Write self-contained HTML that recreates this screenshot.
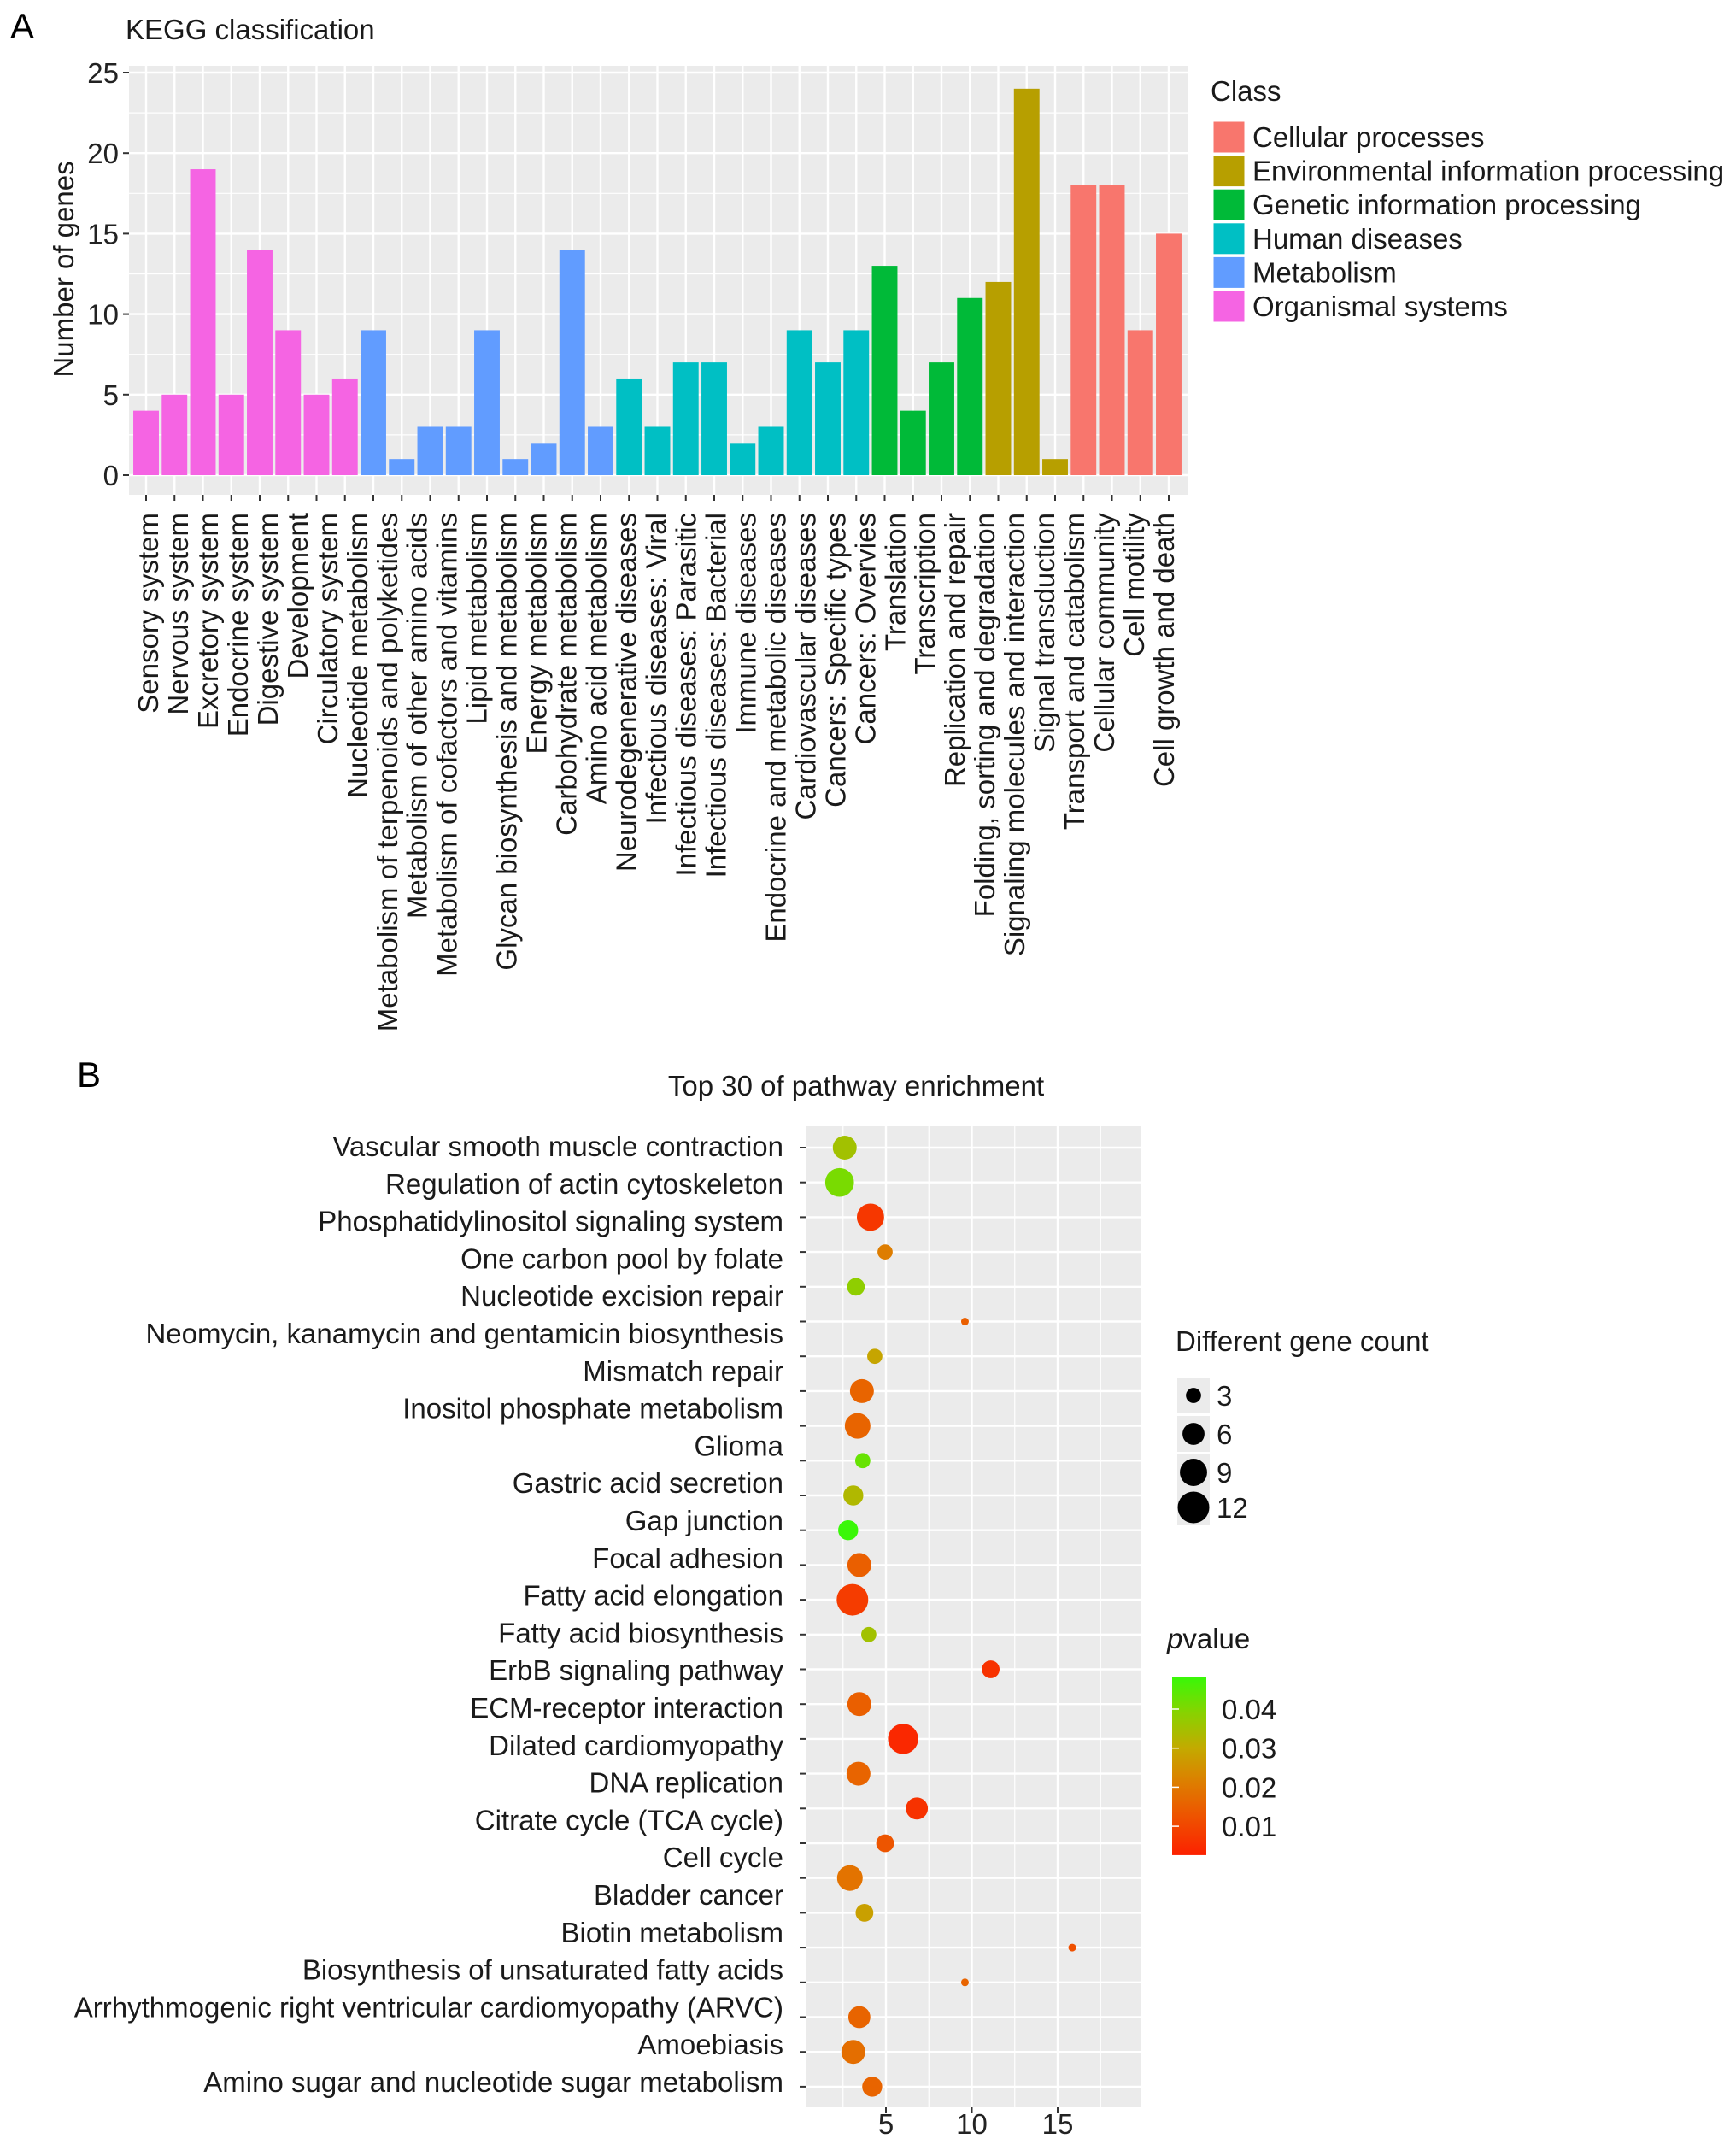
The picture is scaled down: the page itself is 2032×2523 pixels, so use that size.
<!DOCTYPE html>
<html><head><meta charset="utf-8"><style>
html,body{margin:0;padding:0;background:#fff;}
svg{display:block;font-family:"Liberation Sans",Arial,sans-serif;}
</style></head><body>
<svg id="fig" xmlns="http://www.w3.org/2000/svg" width="2032" height="2523" viewBox="0 0 2032 2523">
<rect width="2032" height="2523" fill="#fff"/>
<text x="12" y="45" font-size="42">A</text>
<text x="147" y="46" font-size="33" fill="#1a1a1a">KEGG classification</text>
<text transform="translate(86,315) rotate(-90)" text-anchor="middle" font-size="33" fill="#1a1a1a">Number of genes</text>
<g id="gA"></g>
<text x="1417" y="118" font-size="33" fill="#1a1a1a">Class</text>
<g id="legA"></g>

<text x="90" y="1272" font-size="42">B</text>
<text x="1002" y="1282" text-anchor="middle" font-size="33" fill="#1a1a1a">Top 30 of pathway enrichment</text>
<g id="gB"></g>
<text x="1376" y="1581" font-size="33" fill="#1a1a1a">Different gene count</text>
<g id="legS"></g>
<text x="1366" y="1929" font-size="33" fill="#1a1a1a"><tspan font-style="italic">p</tspan>value</text>
<defs><linearGradient id="pg" x1="0" y1="1" x2="0" y2="0"></linearGradient></defs>
<g id="legC"></g>
</svg>
<script>
const classNames = ["Cellular processes","Environmental information processing","Genetic information processing","Human diseases","Metabolism","Organismal systems"];
const classColors = ["#F8766D","#B79F00","#00BA38","#00BFC4","#619CFF","#F564E3"];
const barValues = [4,5,19,5,14,9,5,6, 9,1,3,3,9,1,2,14,3, 6,3,7,7,2,3,9,7,9, 13,4,7,11, 12,24,1, 18,18,9,15];
const barClass = [5,5,5,5,5,5,5,5, 4,4,4,4,4,4,4,4,4, 3,3,3,3,3,3,3,3,3, 2,2,2,2, 1,1,1, 0,0,0,0];
const xLabelsA = ["Sensory system","Nervous system","Excretory system","Endocrine system","Digestive system","Development","Circulatory system","Nucleotide metabolism","Metabolism of terpenoids and polyketides","Metabolism of other amino acids","Metabolism of cofactors and vitamins","Lipid metabolism","Glycan biosynthesis and metabolism","Energy metabolism","Carbohydrate metabolism","Amino acid metabolism","Neurodegenerative diseases","Infectious diseases: Viral","Infectious diseases: Parasitic","Infectious diseases: Bacterial","Immune diseases","Endocrine and metabolic diseases","Cardiovascular diseases","Cancers: Specific types","Cancers: Overvies","Translation","Transcription","Replication and repair","Folding, sorting and degradation","Signaling molecules and interaction","Signal transduction","Transport and catabolism","Cellular community","Cell motility","Cell growth and death"];
const yTicksA = [0,5,10,15,20,25];

const pathLabels = ["Vascular smooth muscle contraction","Regulation of actin cytoskeleton","Phosphatidylinositol signaling system","One carbon pool by folate","Nucleotide excision repair","Neomycin, kanamycin and gentamicin biosynthesis","Mismatch repair","Inositol phosphate metabolism","Glioma","Gastric acid secretion","Gap junction","Focal adhesion","Fatty acid elongation","Fatty acid biosynthesis","ErbB signaling pathway","ECM-receptor interaction","Dilated cardiomyopathy","DNA replication","Citrate cycle (TCA cycle)","Cell cycle","Bladder cancer","Biotin metabolism","Biosynthesis of unsaturated fatty acids","Arrhythmogenic right ventricular cardiomyopathy (ARVC)","Amoebiasis","Amino sugar and nucleotide sugar metabolism"];
const richFactor = [2.6,2.3,4.1,4.95,3.25,9.6,4.35,3.6,3.35,3.65,3.1,2.8,3.45,3.05,4.0,11.1,3.45,6.0,3.4,6.8,4.95,2.9,3.75,15.85,9.6,3.45,3.1,4.2];
const geneCount = [7,10,9,3,4,1,3,7,8,3,5,5,7,12,3,4,7,11,7,6,4,8,4,1,1,6,7,5];
const pValue = [0.035,0.041,0.007,0.021,0.038,0.015,0.029,0.016,0.016,0.043,0.033,0.048,0.015,0.008,0.035,0.006,0.015,0.004,0.016,0.006,0.013,0.019,0.028,0.012,0.016,0.016,0.018,0.016];
const xTicksB = [5,10,15];
const sizeTicks = [3,6,9,12];
const pTicks = [0.01,0.02,0.03,0.04];

const NS="http://www.w3.org/2000/svg";
function mk(tag, attrs, parent){const e=document.createElementNS(NS,tag);for(const k in attrs)e.setAttribute(k,attrs[k]);parent.appendChild(e);return e;}

// ---------- Panel A ----------
const gA=document.getElementById('gA');
const A={left:151,right:1390,top:77,bottom:579,first:171,pitch:33.25};
const xA=i=>A.first+i*A.pitch;
const yA=v=>556-v*18.84;
const bgA=mk('rect',{x:A.left,y:A.top,width:A.right-A.left,height:A.bottom-A.top,fill:'#EBEBEB'},gA);


for(let k=0;k<yTicksA.length-1;k++){const v=yTicksA[k]+2.5;const l=mk('line',{x1:A.left,x2:A.right,y1:yA(v),y2:yA(v),stroke:'#fff','stroke-width':1.2},gA);

}
yTicksA.forEach(v=>{const l=mk('line',{x1:A.left,x2:A.right,y1:yA(v),y2:yA(v),stroke:'#fff','stroke-width':2.4},gA);


const t=mk('text',{x:139,y:yA(v)+12,'text-anchor':'end','font-size':33,fill:'#222'},gA);t.textContent=v;


const tk=mk('line',{x1:A.left-7,x2:A.left,y1:yA(v),y2:yA(v),stroke:'#333','stroke-width':2},gA);

});
barValues.forEach((v,i)=>{const l=mk('line',{x1:xA(i),x2:xA(i),y1:A.top,y2:A.bottom,stroke:'#fff','stroke-width':2.4},gA);


const tk=mk('line',{x1:xA(i),x2:xA(i),y1:A.bottom,y2:A.bottom+7,stroke:'#333','stroke-width':2},gA);

});
barValues.forEach((v,i)=>{const w=A.pitch*0.9;const r=mk('rect',{x:xA(i)-w/2,y:yA(v),width:w,height:yA(0)-yA(v),fill:classColors[barClass[i]]},gA);

});
xLabelsA.forEach((s,i)=>{const x=174+i*34.97;const t=mk('text',{transform:`translate(${x+11},600) rotate(-90)`,'text-anchor':'end','font-size':33,fill:'#1a1a1a'},gA);t.textContent=s;

});
const legA=document.getElementById('legA');
classNames.forEach((s,i)=>{const y=142+i*39.6;
const r=mk('rect',{x:1420,y:y,width:37,height:37,fill:classColors[i],stroke:'#fff','stroke-width':1},legA);


const t=mk('text',{x:1466,y:y+30,'font-size':33,fill:'#1a1a1a'},legA);t.textContent=s;

});

// ---------- Panel B ----------
const gB=document.getElementById('gB');
const B={left:943,right:1336,top:1318,bottom:2466,first:1343,pitch:40.7};
const xB=v=>1037+(v-5)*20.1;
const yB=i=>B.first+i*B.pitch;
const bgB=mk('rect',{x:B.left,y:B.top,width:B.right-B.left,height:B.bottom-B.top,fill:'#EBEBEB'},gB);


[2.5,7.5,12.5,17.5].forEach(v=>{const l=mk('line',{x1:xB(v),x2:xB(v),y1:B.top,y2:B.bottom,stroke:'#fff','stroke-width':1.2},gB);

});
xTicksB.forEach(v=>{const l=mk('line',{x1:xB(v),x2:xB(v),y1:B.top,y2:B.bottom,stroke:'#fff','stroke-width':2.4},gB);


const tk=mk('line',{x1:xB(v),x2:xB(v),y1:B.bottom,y2:B.bottom+7,stroke:'#333','stroke-width':2},gB);


const t=mk('text',{x:xB(v),y:2497,'text-anchor':'middle','font-size':33,fill:'#222'},gB);t.textContent=v;

});
richFactor.forEach((v,i)=>{const l=mk('line',{x1:B.left,x2:B.right,y1:yB(i),y2:yB(i),stroke:'#fff','stroke-width':2.4},gB);


const tk=mk('line',{x1:B.left-7,x2:B.left,y1:yB(i),y2:yB(i),stroke:'#333','stroke-width':2},gB);

});
const stops=[[0,[255,20,0]],[0.01,[242,70,0]],[0.02,[225,120,0]],[0.03,[195,170,0]],[0.04,[130,215,0]],[0.05,[40,255,10]]];
function pColor(p){for(let k=0;k<stops.length-1;k++){const a=stops[k],b=stops[k+1];if(p<=b[0]||k==stops.length-2){const t=Math.max(0,Math.min(1,(p-a[0])/(b[0]-a[0])));const c=a[1].map((x,j)=>Math.round(x+(b[1][j]-x)*t));return `rgb(${c})`;}}}
const dia=c=>Math.sqrt(117*c-36);
richFactor.forEach((v,i)=>{const c=mk('circle',{cx:xB(v),cy:yB(i),r:dia(geneCount[i])/2,fill:pColor(pValue[i])},gB);

});
pathLabels.forEach((s,i)=>{const t=mk('text',{x:917,y:1342+i*43.8+11,'text-anchor':'end','font-size':33,fill:'#1a1a1a'},gB);t.textContent=s;

});
const legS=document.getElementById('legS');
sizeTicks.forEach((c,i)=>{const y=[1633,1678,1723,1764][i];
const r=mk('rect',{x:1378,y:y-21,width:38,height:42,fill:'#EBEBEB'},legS);


const d=mk('circle',{cx:1397,cy:y,r:dia(c)/2,fill:'#000'},legS);


const t=mk('text',{x:1424,y:y+12,'font-size':33,fill:'#1a1a1a'},legS);t.textContent=c;

});
const grad=document.getElementById('pg');
const pTop=0.0483,pBot=0.0026;
for(let k=0;k<=10;k++){const p=pBot+(pTop-pBot)*k/10;mk('stop',{offset:(k*10)+'%','stop-color':pColor(p)},grad);}
const legC=document.getElementById('legC');
const yP=p=>2000+(0.04-p)*4570;
const cb=mk('rect',{x:1372,y:yP(pTop),width:40,height:yP(pBot)-yP(pTop),fill:'url(#pg)'},legC);


pTicks.forEach(p=>{const t=mk('text',{x:1430,y:yP(p)+12,'font-size':33,fill:'#1a1a1a'},legC);t.textContent=p.toFixed(2);


const l=mk('line',{x1:1372,x2:1380,y1:yP(p),y2:yP(p),stroke:'#fff','stroke-width':1.5},legC);

});
</script>
</body></html>
